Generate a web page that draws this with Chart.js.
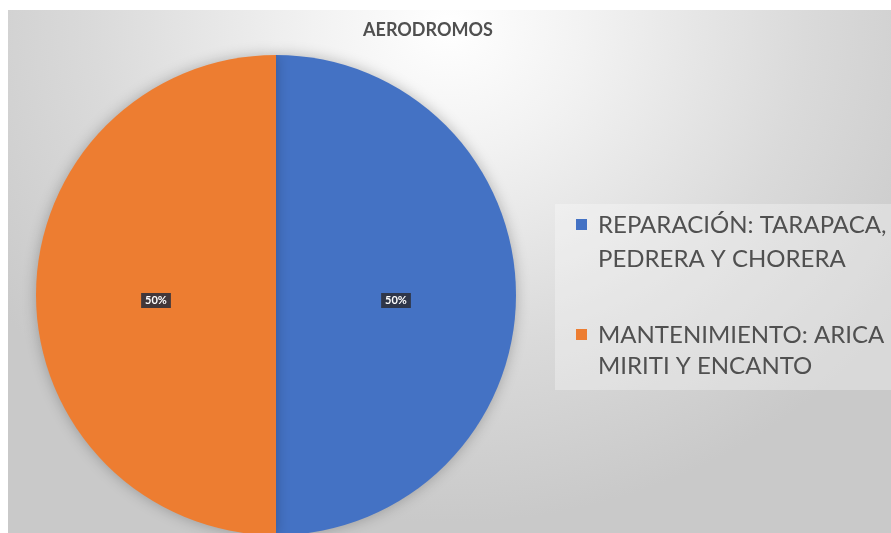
<!DOCTYPE html>
<html>
<head>
<meta charset="utf-8">
<script src="https://cdn.jsdelivr.net/npm/chart.js@4/dist/chart.umd.min.js"></script>
<style>
  body { margin: 0; background: #fff; }
  #wrap {
    position: absolute; left: 8px; top: 10px; width: 883px; height: 523px; overflow: hidden;
    background: radial-gradient(ellipse 62% 95% at 50% 3%, #ffffff 0%, #f2f2f2 25%, #dadada 65%, #c9c9c9 100%);
  }
</style>
</head>
<body>
<div id="wrap"><canvas id="myChart" width="883" height="533"></canvas></div>
<script>
var chartTitle = 'AERODROMOS';
// legend lines as they wrap in the original
var labels = [
  ['REPARACIÓN: TARAPACA,', 'PEDRERA Y CHORERA'],
  ['MANTENIMIENTO: ARICA', 'MIRITI Y ENCANTO']
];
var values = [50, 50];
var colors = ['#4472C4', '#ED7D31'];

var textColor = '#505050';

// title + legend drawn by hand (legend text wraps on two lines)
var sideText = {
  id: 'sideText',
  afterDraw(chart) {
    const ctx = chart.ctx;
    ctx.save();
    ctx.fillStyle = textColor;
    ctx.font = 'bold 18px Lato';
    ctx.textAlign = 'center';
    ctx.textBaseline = 'middle';
    ctx.fillText(chartTitle, 420, 20);

    // lighter legend panel
    ctx.fillStyle = 'rgba(255,255,255,0.3)';
    ctx.fillRect(547, 194, 336, 186);

    ctx.font = '24px Lato';
    ctx.textAlign = 'left';
    var rows = [[214, 248], [324, 355]];
    labels.forEach((lines, i) => {
      ctx.fillStyle = colors[i];
      ctx.fillRect(568, rows[i][0] - 5, 11, 11);
      ctx.fillStyle = textColor;
      lines.forEach((line, j) => ctx.fillText(line, 590, rows[i][j] + 1));
    });
    ctx.restore();
  }
};

// percentage boxes in the middle of each slice
var pctLabels = {
  id: 'pctLabels',
  afterDatasetsDraw(chart) {
    const ctx = chart.ctx;
    const total = values.reduce((a, b) => a + b, 0);
    ctx.save();
    ctx.font = 'bold 11px Lato';
    ctx.textAlign = 'center';
    ctx.textBaseline = 'middle';
    chart.getDatasetMeta(0).data.forEach((arc, i) => {
      const p = arc.tooltipPosition();
      const txt = Math.round(values[i] / total * 100) + '%';
      const w = ctx.measureText(txt).width + 8;
      ctx.fillStyle = 'rgba(45,48,60,0.9)';
      ctx.fillRect(p.x - w / 2, p.y + 5 - 7, w, 15);
      ctx.fillStyle = '#ffffff';
      ctx.fillText(txt, p.x, p.y + 5.5);
    });
    ctx.restore();
  }
};

// soft shadow under the pie
var pieShadow = {
  id: 'pieShadow',
  beforeDatasetsDraw(chart) {
    chart.ctx.save();
    chart.ctx.shadowColor = 'rgba(0,0,0,0.25)';
    chart.ctx.shadowBlur = 14;
  },
  afterDatasetsDraw(chart) {
    chart.ctx.restore();
  }
};

var config = {
  type: 'pie',
  data: {
    labels: labels,
    datasets: [{
      data: values,
      backgroundColor: colors,
      borderWidth: 0
    }]
  },
  options: {
    responsive: false,
    devicePixelRatio: 1,
    animation: false,
    layout: { padding: { left: 28, top: 45, right: 375, bottom: 8 } },
    plugins: {
      legend: { display: false },
      title: { display: false },
      tooltip: { enabled: false }
    }
  },
  plugins: [pieShadow, pctLabels, sideText]
};

new Chart(document.getElementById('myChart'), config);
</script>
</body>
</html>
